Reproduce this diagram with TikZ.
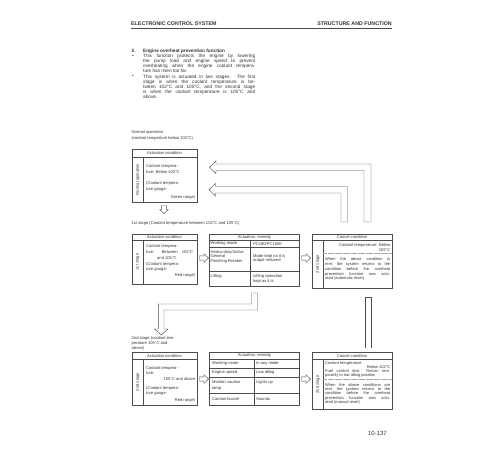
\documentclass[tikz,border=0pt]{standalone}
\usepackage{fontspec}
\setmainfont{Liberation Sans}
\usetikzlibrary{positioning}

\definecolor{ink}{gray}{0.2}
\definecolor{frame}{gray}{0.3}
\tolerance=10000
\hbadness=10000

\begin{document}
\begin{tikzpicture}[x=1pt,y=-1pt,
  every node/.style={inner sep=0pt,text=ink},
  body/.style={font=\fontsize{4.7}{5.1}\selectfont},
  lbl/.style={font=\fontsize{4.1}{#1}\selectfont,align=left},
  lbl/.default=5.2,
  fine/.style={font=\fontsize{4}{#1}\selectfont,align=justify,text width=65pt},
  side/.style={font=\fontsize{4.1}{5}\selectfont,rotate=90},
  box/.style={draw=frame,line width=0.45pt},
  hollow/.style={draw=frame,line width=0.45pt,fill=white},
  sep/.style={draw=gray!70,line width=0.35pt,dash pattern=on 0.35pt off 0.8pt},
  rarrow/.pic={\draw[hollow] (-4.5,-2.2) -- (0,-2.2) -- (0,-4.3) -- (4.5,0) -- (0,4.3) -- (0,2.2) -- (-4.5,2.2) -- cycle;},
  darrow/.pic={\draw[hollow] (-2.4,-4) -- (2.4,-4) -- (2.4,0) -- (4.3,0) -- (0,4) -- (-4.3,0) -- (-2.4,0) -- cycle;}
]

\useasboundingbox[fill=white] (0,0) rectangle (500,450);

% Page header
\node[anchor=west,font=\bfseries\fontsize{5.3}{6}\selectfont] (hdrleft) at (131,23.6) {ELECTRONIC CONTROL SYSTEM};
\node[anchor=east,font=\bfseries\fontsize{5.3}{6}\selectfont] (hdrright) at (392,23.6) {STRUCTURE AND FUNCTION};
\draw[frame,line width=1.1pt] (131,28.2) -- (392,28.2);

% Function description
\node[body,anchor=north west,font=\bfseries\fontsize{4.7}{5.1}\selectfont] (sechead) at (131.5,49) {\makebox[11.5pt][l]{2.}Engine overheat prevention function};
\node[body,anchor=base west] (dot1) at (132,57.4) {•};
\node[body,anchor=north west,text width=112pt,align=justify] (para1) at (143,54) {This function protects the engine by lowering\linebreak the pump load and engine speed to prevent\linebreak overheating when the engine coolant tempera-\linebreak ture has risen too far.};
\node[body,anchor=base west] (dot2) at (132,77.9) {•};
\node[body,anchor=north west,text width=112pt,align=justify] (para2) at (143,74.5) {This system is actuated in two stages. The first\linebreak stage is when the coolant temperature is be-\linebreak tween 102°C and 105°C, and the second stage\linebreak is when the coolant temperature is 105°C and\linebreak above.};

% Normal operation
\node[lbl=6.4,anchor=north west] (normhead) at (131.5,129.9) {Normal operation\\(coolant temperture below 102°C)};
\draw[box] (132,149) rectangle (197,202);
\draw[box] (132,157) -- (197,157);
\draw[box] (143,157) -- (143,202);
\node[lbl] (normtitle) at (164.5,153.2) {Actuation condition};
\node[side] (normside) at (137.7,179.5) {Normal operation};
\node[lbl=6.6,anchor=north west] (normcond) at (146,164.2) {Coolant tempera-\\ture: Below 102°C};
\node[lbl=5.7,anchor=north west] (normgauge) at (146,181.8) {(Coolant tempera-\\ture gauge:};
\node[lbl,anchor=east] (normrange) at (195.5,197.3) {Green range)};

% Return arrows from cancel condition
\draw[hollow] (209.5,167.2) -- (216,161) -- (216,164) -- (371,164) -- (371,222) -- (364,222) -- (364,170.5) -- (216,170.5) -- (216,173.5) -- cycle;
\draw[hollow] (209,189.7) -- (215.5,183.5) -- (215.5,186.5) -- (347.5,186.5) -- (347.5,222) -- (341,222) -- (341,193) -- (215.5,193) -- (215.5,196) -- cycle;
\pic at (164,209.5) {darrow};

% 1st stage
\node[lbl,anchor=west] (s1head) at (131.5,223) {1st stage (Coolant temperature between 102°C and 105°C)};

% 1st stage: actuation condition
\draw[box] (132,234) rectangle (197,284);
\draw[box] (132,240.5) -- (197,240.5);
\draw[box] (143,240.5) -- (143,284);
\node[lbl] (s1title) at (164.5,237.3) {Actuation condition};
\node[side] (s1side) at (137.7,262) {1st stage};
\node[lbl=6,anchor=north west] (s1cond) at (146,244.5) {Coolant tempera-\\\makebox[47pt][s]{ture: Between 102°C}};
\node[lbl,anchor=west] (s1temp) at (157,257.8) {and 105°C};
\node[lbl=5.6,anchor=north west] (s1gauge) at (146,262) {(Coolant tempera-\\ture gauge:};
\node[lbl,anchor=east] (s1range) at (195.5,275.5) {Red range)};
\pic at (204,258) {rarrow};

% 1st stage: actuation, remedy
\draw[box] (209,234) rectangle (299.5,286);
\draw[box] (209,240.5) -- (299.5,240.5);
\draw[box] (209,247) -- (299.5,247);
\draw[box] (209,271.5) -- (299.5,271.5);
\draw[box] (250.5,240.5) -- (250.5,286);
\node[lbl] (r1title) at (254.5,237.3) {Actuation, remedy};
\node[lbl,anchor=west] (r1mode) at (210.5,243.8) {Working mode};
\node[lbl,anchor=west] (r1model) at (253,243.8) {PC180/PC160K};
\node[lbl=4.6,anchor=north west] (r1heavy) at (210.5,250) {Heavy-duty/Active\\General\\Finishing Breaker};
\node[lbl=4.6,anchor=north west] (r1kept) at (253,254) {Mode kept as it is\\output reduced};
\node[lbl,anchor=north west] (r1lift) at (210.5,274) {Lifting};
\node[lbl=5,anchor=north west] (r1liftop) at (253,274) {Lifting operation\\kept as it is};
\pic at (306,258) {rarrow};

% 1st stage: cancel condition
\draw[box] (312.5,234) rectangle (392,288);
\draw[box] (312.5,240.5) -- (392,240.5);
\draw[box] (323,240.5) -- (323,288);
\node[lbl] (c1title) at (352,237.3) {Cancel condition};
\node[side] (c1side) at (317.8,264) {2nd stage};
\node[lbl=5,anchor=north east,align=right] (c1temp) at (390.5,243.6) {Coolant temperature: Below\\102°C};
\draw[sep] (323,253.5) -- (392,253.5);
\node[fine=4.8,anchor=north west] (c1reset) at (325,257.6) {When the above condition is\linebreak met, the system returns to the\linebreak condition before the overheat\linebreak prevention function was actu-\linebreak ated (automatic reset).};

% Arrow down to 2nd stage
\draw[hollow] (251.5,293) -- (257.5,293) -- (257.5,310) -- (164,310) -- (164,329) -- (168,329) -- (161.2,335) -- (154.5,329) -- (158.3,329) -- (158.3,304) -- (251.5,304) -- cycle;
\draw[frame,line width=0.45pt] (365,348) -- (365,297) -- (371,297) -- (371,348);

% 2nd stage
\node[lbl=5,anchor=north west] (s2head) at (131.5,336.8) {2nd stage (coolant tem-\\perature 105°C and\\above)};

% 2nd stage: actuation condition
\draw[box] (132,352.3) rectangle (197,405);
\draw[box] (132,359.3) -- (197,359.3);
\draw[box] (143,359.3) -- (143,405);
\node[lbl] (s2title) at (164.5,355.8) {Actuation condition};
\node[side] (s2side) at (137.7,382) {2nd stage};
\node[lbl=5,anchor=north west] (s2cond) at (146,366.8) {Coolant tempera-\\ture:};
\node[lbl,anchor=east] (s2temp) at (195.5,379) {105°C and above};
\node[lbl=5,anchor=north west] (s2gauge) at (146,386.8) {(Coolant tempera-\\ture gauge:};
\node[lbl,anchor=east] (s2range) at (195.5,400.7) {Red range)};
\pic at (204,379) {rarrow};

% 2nd stage: actuation, remedy
\draw[box] (209,352.3) rectangle (299.5,405);
\draw[box] (209,359.3) -- (299.5,359.3);
\draw[box] (209,368) -- (299.5,368);
\draw[box] (209,377.7) -- (299.5,377.7);
\draw[box] (209,393.5) -- (299.5,393.5);
\draw[box] (254,359.3) -- (254,405);
\node[lbl] (r2title) at (254.5,355.8) {Actuation, remedy};
\node[lbl,anchor=west] (r2mode) at (212,363.6) {Working mode};
\node[lbl,anchor=west] (r2modeval) at (256,363.6) {In any mode};
\node[lbl,anchor=west] (r2speed) at (212,372.8) {Engine speed};
\node[lbl,anchor=west] (r2speedval) at (256,372.8) {Low idling};
\node[lbl=6,anchor=north west] (r2lamp) at (212,380.7) {Monitor caution\\lamp};
\node[lbl,anchor=north west] (r2lampval) at (256,380.7) {Lights up};
\node[lbl,anchor=west] (r2buzzer) at (212,399.2) {Caution buzzer};
\node[lbl,anchor=west] (r2buzzerval) at (256,399.2) {Sounds};
\pic at (306,379) {rarrow};

% 2nd stage: cancel condition
\draw[box] (312.5,352.3) rectangle (392,409);
\draw[box] (312.5,359.3) -- (392,359.3);
\draw[box] (323,359.3) -- (323,409);
\node[lbl] (c2title) at (352,355.8) {Cancel condition};
\node[side] (c2side) at (317.8,384.5) {2nd stage};
\node[font=\fontsize{4}{4.4}\selectfont,anchor=north west] (c2temp) at (325,361.2) {Coolant temperature};
\node[font=\fontsize{4}{4.4}\selectfont,anchor=north east] (c2below) at (390.5,365) {Below 102°C};
\node[fine=4.2,anchor=north west] (c2dial) at (325,368.9) {Fuel control dial: Return tem-\linebreak porarily to low idling position};
\draw[sep] (323,378.8) -- (392,378.8);
\node[fine=4.4,anchor=north west] (c2reset) at (325,383) {When the above conditions are\linebreak met, the system returns to the\linebreak condition before the overheat\linebreak prevention function was actu-\linebreak ated (manual reset).};

% Page number
\node[anchor=east,font=\fontsize{6}{7}\selectfont] (pageno) at (387,433.5) {10-137};

\end{tikzpicture}
\end{document}
